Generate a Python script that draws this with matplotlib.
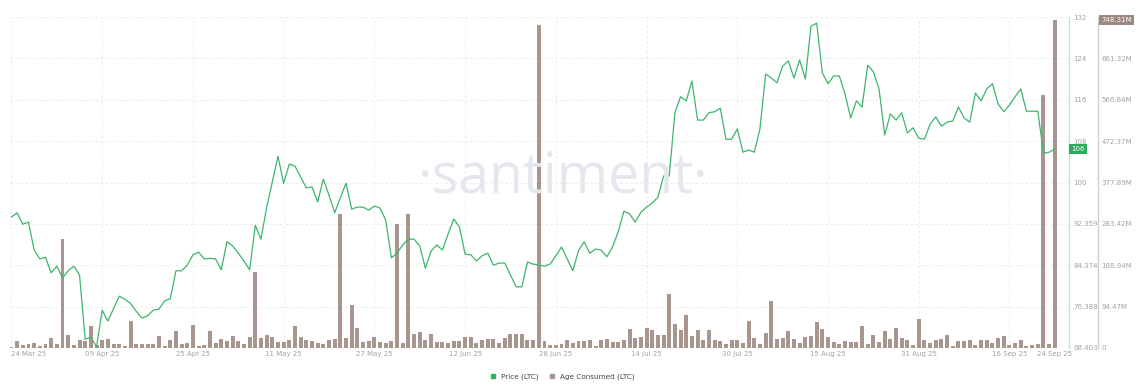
import matplotlib
matplotlib.use("Agg")
import matplotlib.pyplot as plt
import matplotlib.dates as mdates
from matplotlib.lines import Line2D
import numpy as np
import pandas as pd

# ---------------- data ----------------
start_date = "2025-03-24"
end_date = "2025-09-24"

price_ltc = [
    93.7, 94.5, 92.3, 92.7, 87.3, 85.6, 85.9, 82.9, 84.2, 81.9,
    83.3, 84.2, 82.5, 70.1, 70.5, 68.6, 75.7, 73.6, 76.0, 78.4,
    77.8, 77.0, 75.5, 74.2, 74.6, 75.7, 75.9, 77.5, 77.9, 83.3,
    83.3, 84.4, 86.4, 86.9, 85.6, 85.7, 85.6, 83.5, 88.9, 88.1,
    86.7, 85.2, 83.5, 92.1, 89.4, 95.5, 100.5, 105.4, 100.2, 103.9,
    103.5, 101.4, 99.3, 99.5, 96.6, 101.0, 97.9, 94.5, 97.4, 100.2,
    95.2, 95.6, 95.6, 95.0, 95.8, 95.4, 93.1, 85.8, 86.7, 88.3,
    89.4, 89.4, 88.1, 83.8, 87.1, 88.3, 87.3, 90.4, 93.3, 91.8,
    86.5, 86.4, 85.2, 86.2, 86.7, 84.4, 84.8, 84.8, 82.5, 80.2,
    80.2, 85.0, 84.6, 84.4, 84.2, 84.6, 86.2, 87.9, 85.6, 83.3,
    87.2, 88.9, 86.7, 87.5, 87.3, 86.0, 87.9, 90.8, 94.8, 94.3,
    92.7, 94.6, 95.6, 96.4, 97.5, 101.6, 101.6, 113.8, 116.9, 116.1,
    119.9, 112.4, 112.4, 113.8, 114.0, 114.7, 108.7, 108.7, 110.7, 106.2,
    106.6, 106.2, 110.7, 121.3, 120.5, 119.6, 122.8, 123.8, 120.5, 124.0,
    120.3, 130.5, 131.1, 121.5, 119.4, 120.9, 120.9, 117.4, 112.8, 116.1,
    114.9, 123.0, 121.7, 118.4, 109.5, 113.6, 112.4, 113.8, 109.9, 110.9,
    108.9, 108.7, 111.6, 113.0, 111.2, 112.0, 112.2, 114.9, 112.8, 112.0,
    117.6, 116.1, 118.4, 119.4, 115.5, 114.0, 115.3, 116.9, 118.4, 114.1,
    114.1, 114.1, 106.0, 106.2, 106.8,
]

age_consumed_m = [
    2.0, 16.7, 6.0, 9.0, 10.6, 4.6, 10.0, 23.6, 9.0, 249.0,
    30.4, 7.6, 17.5, 15.2, 51.0, 7.6, 17.5, 21.3, 9.0, 8.4,
    3.8, 62.0, 9.0, 9.0, 8.4, 8.4, 27.4, 4.6, 17.5, 38.8,
    9.9, 11.4, 52.5, 4.6, 6.8, 39.6, 11.4, 20.5, 16.7, 26.6,
    15.2, 8.4, 24.4, 173.5, 23.6, 29.0, 25.0, 13.7, 13.0, 18.3,
    49.5, 25.0, 19.0, 16.7, 11.4, 8.4, 17.5, 20.5, 306.0, 23.6,
    99.0, 45.7, 13.0, 15.2, 24.4, 13.0, 11.4, 16.7, 284.0, 10.6,
    305.0, 31.2, 35.8, 19.0, 32.7, 13.7, 13.0, 10.6, 16.0, 15.2,
    24.4, 25.9, 12.2, 17.5, 20.5, 21.3, 11.4, 22.8, 32.7, 32.7,
    31.5, 19.0, 19.0, 737.0, 16.7, 7.6, 7.6, 9.9, 17.5, 11.4,
    16.7, 16.7, 18.3, 5.3, 19.0, 21.3, 12.9, 13.7, 17.5, 43.4,
    22.8, 24.4, 45.7, 40.3, 30.4, 30.4, 124.0, 54.8, 40.3, 74.6,
    28.2, 40.3, 19.0, 40.3, 17.5, 15.2, 9.9, 17.5, 17.5, 11.4,
    60.9, 22.8, 9.9, 34.2, 106.5, 20.5, 22.8, 38.0, 20.5, 11.4,
    24.4, 26.6, 58.6, 43.4, 24.4, 12.9, 9.1, 15.2, 12.9, 12.9,
    49.5, 9.9, 28.9, 12.9, 39.6, 20.5, 45.7, 22.8, 17.5, 7.6,
    67.0, 17.5, 11.4, 19.0, 20.5, 30.4, 5.3, 15.2, 15.2, 19.0,
    7.6, 17.5, 17.5, 11.4, 22.8, 28.2, 7.6, 11.4, 17.5, 3.8,
    7.6, 9.1, 578.0, 9.9, 748.31,
]

price_ticks = [68.403, 76.388, 84.374, 92.359, 100.344, 108.33, 116.315, 124.3, 132.286]
price_tick_labels = ["68.403", "76.388", "84.374", "92.359", "100", "108", "116", "124", "132"]
age_ticks_m = [0, 94.47, 188.94, 283.42, 377.89, 472.37, 566.84, 661.32, 755.79]
age_tick_labels = ["0", "94.47M", "188.94M", "283.42M", "377.89M", "472.37M",
                   "566.84M", "661.32M", "755.79M"]
date_ticks = ["2025-03-24", "2025-04-09", "2025-04-25", "2025-05-11", "2025-05-27",
              "2025-06-12", "2025-06-28", "2025-07-14", "2025-07-30", "2025-08-15",
              "2025-08-31", "2025-09-16", "2025-09-24"]
date_tick_labels = ["24 Mar 25", "09 Apr 25", "25 Apr 25", "11 May 25", "27 May 25",
                    "12 Jun 25", "28 Jun 25", "14 Jul 25", "30 Jul 25", "15 Aug 25",
                    "31 Aug 25", "16 Sep 25", "24 Sep 25"]
last_price_label = "106"
last_age_label = "748.31M"

# ---------------- style ----------------
W, H = 1141, 391
GREEN = "#3cb66c"
GREEN_BOX = "#2eaa5c"
BROWN = "#a8958d"
BROWN_BOX = "#9d8880"
TICK_C = "#9ba3ab"
GRID_C = "#e6e8eb"
FS = 5.0

dates = pd.date_range(start_date, end_date, freq="D")
x0 = mdates.date2num(dates[0])

fig = plt.figure(figsize=(W / 100, H / 100), dpi=100)
fig.patch.set_facecolor("white")

left_px, right_px, top_px, bottom_px = 10, 1069, 17, 348
ax = fig.add_axes([left_px / W, 1 - bottom_px / H,
                   (right_px - left_px) / W, (bottom_px - top_px) / H])
axp = ax.twinx()

# watermark
fig.text(563 / W, 1 - 178 / H, "\u00b7santiment\u00b7", ha="center", va="center",
         fontsize=40, color="#e4e7ed", family="Open Sans", zorder=0)

# bars (age consumed)
ax.bar(dates, age_consumed_m, width=0.7, color=BROWN, zorder=2)
ax.set_ylim(0, 755.79)
ax.set_xlim(x0 - 0.26, x0 + 186.5)

# price line
axp.plot(dates, price_ltc, color=GREEN, lw=0.9, zorder=3)
axp.set_ylim(68.403, 132.286)

# grid
ax.set_yticks(age_ticks_m)
ax.set_yticklabels(age_tick_labels)
tick_nums = [mdates.date2num(pd.Timestamp(d)) for d in date_ticks]
ax.set_xticks(tick_nums)
ax.set_xticklabels(date_tick_labels)
ax.grid(True, color=GRID_C, lw=0.6, ls=(0, (3, 3)), zorder=0)
ax.set_axisbelow(True)

for s in ["top", "left", "bottom"]:
    ax.spines[s].set_visible(False)
    axp.spines[s].set_visible(False)

# age axis on the right, offset (points)
ax.yaxis.tick_right()
ax.spines["right"].set_position(("outward", 21))
ax.spines["right"].set_color("#d8cfcb")
ax.spines["right"].set_linewidth(1.0)
ax.tick_params(axis="y", length=0, pad=2.5, labelsize=FS, labelcolor=TICK_C)
ax.tick_params(axis="x", length=0, pad=2, labelsize=FS, labelcolor=TICK_C)

# price axis
axp.set_yticks(price_ticks)
axp.set_yticklabels(price_tick_labels)
axp.spines["right"].set_color("#bfe6cc")
axp.spines["right"].set_linewidth(1.0)
axp.tick_params(axis="y", length=0, pad=3, labelsize=FS, labelcolor=TICK_C)

xl = ax.get_xticklabels()
xl[0].set_horizontalalignment("left")

# value boxes
axp.annotate(last_price_label, xy=(1.0, price_ltc[-1]), xycoords=("axes fraction", "data"),
             xytext=(1.5, 0), textcoords="offset points", ha="left", va="center",
             fontsize=FS, color="white",
             bbox=dict(boxstyle="square,pad=0.3", fc=GREEN_BOX, ec="none"), zorder=10)
ax.annotate(last_age_label, xy=(1.0, 748.31), xycoords=("axes fraction", "data"),
            xytext=(23, 0), textcoords="offset points", ha="left", va="center",
            fontsize=FS, color="white", annotation_clip=False,
            bbox=dict(boxstyle="square,pad=0.3", fc=BROWN_BOX, ec="none"), zorder=10)

# legend
handles = [Line2D([], [], marker="s", ls="none", color="#2fb35f", markersize=3.3),
           Line2D([], [], marker="s", ls="none", color="#a8958d", markersize=3.3)]
fig.legend(handles, ["Price (LTC)", "Age Consumed (LTC)"], loc="center",
           bbox_to_anchor=(560 / W, 1 - 377 / H), ncol=2, frameon=False,
           fontsize=5.2, handletextpad=0.1, columnspacing=0.8, labelcolor="#444444")

fig.savefig("out.png", dpi=100, facecolor="white")
